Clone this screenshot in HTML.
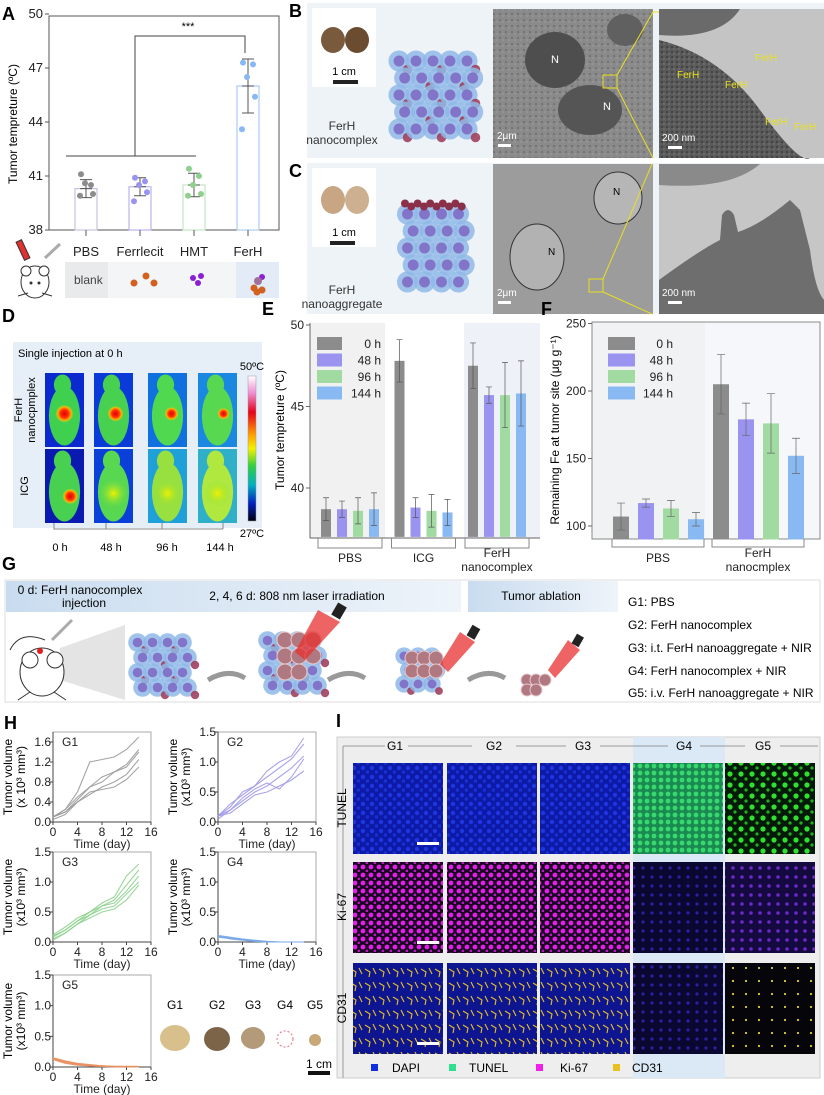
<!DOCTYPE html>
<html><head><meta charset="utf-8">
<style>
html,body{margin:0;padding:0;background:#fff;}
svg{display:block;font-family:"Liberation Sans",Arial,sans-serif;}
</style></head>
<body>
<svg id="fig" width="824" height="1095" viewBox="0 0 824 1095" xmlns="http://www.w3.org/2000/svg">
<defs>
  <linearGradient id="hdr" x1="0" x2="1" y1="0" y2="0"><stop offset="0" stop-color="#c9dcef"/><stop offset="1" stop-color="#eef4fa"/></linearGradient>
  <linearGradient id="cbar" x1="0" x2="0" y1="0" y2="1">
    <stop offset="0" stop-color="#ffffff"/><stop offset="0.12" stop-color="#f08ad0"/><stop offset="0.25" stop-color="#e8001a"/><stop offset="0.4" stop-color="#ff9a00"/><stop offset="0.5" stop-color="#f4f000"/><stop offset="0.62" stop-color="#30d040"/><stop offset="0.75" stop-color="#00b0c0"/><stop offset="0.88" stop-color="#0020c0"/><stop offset="1" stop-color="#000010"/></linearGradient>
  <radialGradient id="hot" cx="0.5" cy="0.5" r="0.5"><stop offset="0" stop-color="#e00010"/><stop offset="0.45" stop-color="#ff3000"/><stop offset="0.75" stop-color="#ffb000"/><stop offset="1" stop-color="#a8e030" stop-opacity="0"/></radialGradient>
  <radialGradient id="warm" cx="0.5" cy="0.5" r="0.5"><stop offset="0" stop-color="#f0f000"/><stop offset="1" stop-color="#80e040" stop-opacity="0"/></radialGradient>
  <pattern id="pBlue" width="9" height="9" patternUnits="userSpaceOnUse"><rect width="9" height="9" fill="#0d1aa8"/><circle cx="3" cy="3" r="2.2" fill="#1f35e0"/><circle cx="7.5" cy="7" r="1.8" fill="#1830d0"/></pattern>
  <pattern id="pGreenDense" width="7" height="7" patternUnits="userSpaceOnUse"><rect width="7" height="7" fill="#1a8a50"/><circle cx="3" cy="3" r="2.4" fill="#38d870"/></pattern>
  <pattern id="pGreenSparse" width="11" height="11" patternUnits="userSpaceOnUse"><rect width="11" height="11" fill="#041a08"/><circle cx="4" cy="4" r="2.6" fill="#30e030"/><circle cx="9" cy="9" r="1.6" fill="#20b020"/></pattern>
  <pattern id="pMag" width="8" height="8" patternUnits="userSpaceOnUse"><rect width="8" height="8" fill="#1a0520"/><circle cx="3" cy="3" r="2.4" fill="#e020e8"/><circle cx="7" cy="7" r="1.5" fill="#b018c0"/></pattern>
  <pattern id="pDark" width="9" height="9" patternUnits="userSpaceOnUse"><rect width="9" height="9" fill="#0a0830"/><circle cx="4" cy="4" r="1.6" fill="#2a20a0"/></pattern>
  <pattern id="pViolet" width="9" height="9" patternUnits="userSpaceOnUse"><rect width="9" height="9" fill="#140a40"/><circle cx="4" cy="4" r="1.8" fill="#6a28c8"/></pattern>
  <pattern id="pCD31" width="14" height="14" patternUnits="userSpaceOnUse"><rect width="14" height="14" fill="#0d1690"/><path d="M1 3 L6 6 L5 11 M9 2 L12 8" stroke="#e8c020" stroke-width="1.1" fill="none"/></pattern>
  <pattern id="pYdots" width="13" height="13" patternUnits="userSpaceOnUse"><rect width="13" height="13" fill="#06060a"/><circle cx="5" cy="6" r="1.1" fill="#e0d030"/></pattern>
  <pattern id="pTEM" width="6" height="6" patternUnits="userSpaceOnUse"><rect width="6" height="6" fill="#8a8a8a"/><circle cx="2" cy="2" r="1" fill="#6c6c6c"/><circle cx="5" cy="4" r="0.8" fill="#a0a0a0"/></pattern>
  <pattern id="pTEM2" width="5" height="5" patternUnits="userSpaceOnUse"><rect width="5" height="5" fill="#5a5a5a"/><circle cx="2" cy="2" r="1" fill="#3c3c3c"/><circle cx="4" cy="4" r="0.7" fill="#808080"/></pattern>
  <marker id="arr" markerWidth="6" markerHeight="6" refX="3" refY="3" orient="auto"><path d="M0 0 L6 3 L0 6z" fill="#999"/></marker>
</defs>

<!-- ================= PANEL A ================= -->
<g id="panelA">
  <text x="2" y="20" font-size="18" font-weight="bold">A</text>
  <text transform="translate(17,124) rotate(-90)" text-anchor="middle" font-size="12">Tumor tempreture (ºC)</text>
  <rect x="49" y="16" width="230" height="214" fill="none" stroke="#555" stroke-width="1"/>
  <g id="aTicks"></g>
  <g id="aBars"></g>
  <path d="M66 156 H196 M135 156 V36 H245 V53" fill="none" stroke="#444" stroke-width="1"/>
  <text x="188" y="30" font-size="11" text-anchor="middle">***</text>
  <rect x="65" y="262" width="214" height="36" fill="#f3f5f7"/>
  <rect x="65" y="262" width="43" height="36" fill="#e8eaec"/>
  <rect x="236" y="262" width="43" height="36" fill="#e2ebf6"/>
  <text x="74" y="284" font-size="12" fill="#444">blank</text>
  <g><circle cx="134" cy="283" r="3.5" fill="#d2601e"/><circle cx="146" cy="276" r="3.5" fill="#d2601e"/><circle cx="154" cy="283" r="3.5" fill="#d2601e"/></g>
  <g><circle cx="193" cy="278" r="3" fill="#8a1fd6"/><circle cx="201" cy="276" r="3" fill="#8a1fd6"/><circle cx="198" cy="283" r="3" fill="#8a1fd6"/></g>
  <g><circle cx="262" cy="277" r="3" fill="#8a1fd6"/><circle cx="258" cy="281" r="4" fill="#a0709a"/><circle cx="254" cy="288" r="3.5" fill="#d2601e"/><circle cx="262" cy="290" r="3.5" fill="#d2601e"/><circle cx="257" cy="292" r="3.5" fill="#d2601e"/></g>
  <g stroke="#333" fill="#fff" stroke-width="1">
    <ellipse cx="35" cy="282" rx="14" ry="16"/><circle cx="26" cy="271" r="5"/><circle cx="44" cy="271" r="5"/>
    <circle cx="31" cy="283" r="1" fill="#333"/><circle cx="39" cy="283" r="1" fill="#333"/>
    <path d="M28 293 L18 296 M42 293 L52 296" fill="none"/>
    <rect x="20" y="240" width="6" height="20" fill="#e03030" transform="rotate(-25 23 250)"/>
    <path d="M45 258 L60 244" stroke="#aaa" stroke-width="3"/>
  </g>
</g>

<!-- ================= PANEL B / C ================= -->
<g>
  <text x="289" y="17" font-size="18" font-weight="bold">B</text>
  <rect x="307" y="3" width="517" height="155" fill="#eef3f8"/>
  <rect x="312" y="8" width="64" height="79" fill="#fff"/>
  <ellipse cx="333" cy="40" rx="12" ry="13" fill="#7a5a3c"/><ellipse cx="357" cy="40" rx="12" ry="13" fill="#6c4c30"/>
  <text x="344" y="75" font-size="11" text-anchor="middle">1 cm</text>
  <rect x="333" y="80" width="25" height="4" fill="#222"/>
  <text x="342" y="130" font-size="12" text-anchor="middle" fill="#333">FerH</text>
  <text x="342" y="144" font-size="12" text-anchor="middle" fill="#333">nanocomplex</text>
  <g id="clusterB"></g>
  <rect x="493" y="9" width="160" height="149" fill="url(#pTEM)"/>
  <ellipse cx="555" cy="60" rx="30" ry="28" fill="#4e4e4e"/><ellipse cx="590" cy="110" rx="32" ry="25" fill="#555"/>
  <ellipse cx="625" cy="30" rx="18" ry="16" fill="#606060"/>
  <text x="551" y="63" fill="#fff" font-size="11">N</text><text x="603" y="110" fill="#fff" font-size="11">N</text>
  <rect x="603" y="75" width="14" height="13" fill="none" stroke="#e8e020"/>
  <text x="497" y="139" fill="#fff" font-size="10">2μm</text><rect x="498" y="144" width="13" height="3" fill="#fff"/>
  <path d="M653 12 L659 12 M617 75 L653 12 M617 88 L653 158" stroke="#e8e020" stroke-width="1"/>
  <rect x="659" y="9" width="165" height="149" fill="#c4c4c4"/>
  <path d="M659 40 Q720 55 760 110 T810 158 L659 158Z" fill="url(#pTEM2)"/>
  <path d="M659 9 H740 Q720 40 659 35Z" fill="#6a6a6a"/>
  <text x="677" y="78" fill="#e8e020" font-size="10">FerH</text><text x="725" y="88" fill="#e8e020" font-size="10">FerH</text>
  <text x="755" y="61" fill="#e8e020" font-size="10">FerH</text><text x="765" y="125" fill="#e8e020" font-size="10">FerH</text><text x="794" y="130" fill="#e8e020" font-size="10">FerH</text>
  <text x="662" y="141" fill="#fff" font-size="10">200 nm</text><rect x="668" y="146" width="14" height="3" fill="#fff"/>
</g>
<g>
  <text x="289" y="177" font-size="18" font-weight="bold">C</text>
  <rect x="307" y="163" width="517" height="151" fill="#eef3f8"/>
  <rect x="312" y="168" width="64" height="79" fill="#fff"/>
  <ellipse cx="333" cy="200" rx="12" ry="14" fill="#c8a684"/><ellipse cx="357" cy="200" rx="12" ry="14" fill="#cdb090"/>
  <text x="344" y="236" font-size="11" text-anchor="middle">1 cm</text>
  <rect x="330" y="241" width="25" height="4" fill="#222"/>
  <text x="342" y="294" font-size="12" text-anchor="middle" fill="#333">FerH</text>
  <text x="342" y="308" font-size="12" text-anchor="middle" fill="#333">nanoaggregate</text>
  <g id="clusterC"></g>
  <rect x="493" y="164" width="160" height="150" fill="#9c9c9c"/>
  <ellipse cx="537" cy="257" rx="27" ry="33" fill="#b2b2b2" stroke="#333"/><ellipse cx="618" cy="198" rx="24" ry="26" fill="#b6b6b6" stroke="#333"/>
  <text x="548" y="255" font-size="10">N</text><text x="613" y="195" font-size="10">N</text>
  <rect x="589" y="279" width="14" height="13" fill="none" stroke="#e8e020"/>
  <path d="M603 279 L652 164 M603 292 L652 314" stroke="#e8e020"/>
  <text x="497" y="296" fill="#fff" font-size="10">2μm</text><rect x="498" y="301" width="13" height="3" fill="#fff"/>
  <rect x="659" y="164" width="165" height="150" fill="#c6c6c6"/>
  <path d="M659 314 L659 280 Q700 250 720 240 L722 215 Q728 205 734 215 L738 232 Q760 225 790 200 L800 210 L810 250 Q815 290 824 300 L824 314Z" fill="#6e6e6e"/>
  <path d="M659 164 H760 Q730 190 659 185Z" fill="#8a8a8a"/>
  <text x="662" y="296" fill="#fff" font-size="10">200 nm</text><rect x="668" y="301" width="14" height="3" fill="#fff"/>
</g>

<!-- ================= PANEL D ================= -->
<g>
  <text x="2" y="322" font-size="18" font-weight="bold">D</text>
  <rect x="13" y="342" width="249" height="186" fill="#e6eef7"/>
  <text x="18" y="357" font-size="11">Single injection at 0 h</text>
  <text transform="translate(22,410) rotate(-90)" text-anchor="middle" font-size="11">FerH</text>
  <text transform="translate(35,410) rotate(-90)" text-anchor="middle" font-size="11">nanocpmplex</text>
  <text transform="translate(28,486) rotate(-90)" text-anchor="middle" font-size="11">ICG</text>
  <g id="thermal"></g>
  <rect x="248" y="376" width="8" height="145" fill="url(#cbar)" stroke="#999" stroke-width="0.5"/>
  <text x="252" y="370" font-size="11" text-anchor="middle">50ºC</text>
  <text x="252" y="537" font-size="11" text-anchor="middle">27ºC</text>
  <path d="M54 523 V529 H223 M106 523 V529 M162 523 V529 M223 523 V529" stroke="#888" fill="none"/>
  <text x="60" y="551" font-size="11" text-anchor="middle">0 h</text>
  <text x="111" y="551" font-size="11" text-anchor="middle">48 h</text>
  <text x="167" y="551" font-size="11" text-anchor="middle">96 h</text>
  <text x="220" y="551" font-size="11" text-anchor="middle">144 h</text>
</g>

<!-- ================= PANEL E ================= -->
<g>
  <text x="262" y="315" font-size="18" font-weight="bold">E</text>
  <rect x="310" y="323" width="75" height="215" fill="#f1f1f1"/>
  <rect x="464" y="323" width="76" height="215" fill="#eef2f8"/>
  <path d="M310 323 V538 H540" fill="none" stroke="#666"/>
  <text transform="translate(284,430) rotate(-90)" text-anchor="middle" font-size="12">Tumor tempreture (ºC)</text>
  <g id="eTicks"></g><g id="eBars"></g><g id="eLegend"></g><g id="eGroups"></g>
</g>

<!-- ================= PANEL F ================= -->
<g>
  <text x="541" y="315" font-size="18" font-weight="bold">F</text>
  <rect x="592" y="322" width="113" height="217" fill="#f1f2f4"/>
  <rect x="705" y="322" width="115" height="217" fill="#f5f7fa"/>
  <rect x="592" y="322" width="228" height="217" fill="none" stroke="#888"/>
  <text transform="translate(559,430) rotate(-90)" text-anchor="middle" font-size="12">Remaining Fe at tumor site (μg g⁻¹)</text>
  <g id="fTicks"></g><g id="fBars"></g><g id="fLegend"></g><g id="fGroups"></g>
</g>

<!-- ================= PANEL G ================= -->
<g>
  <text x="2" y="570" font-size="18" font-weight="bold">G</text>
  <rect x="5" y="580" width="815" height="122" fill="#fff" stroke="#ddd"/>
  <rect x="6" y="581" width="455" height="31" fill="url(#hdr)"/>
  <rect x="468" y="581" width="150" height="31" fill="url(#hdr)"/>
  <text x="80" y="594" font-size="12" text-anchor="middle">0 d: FerH nanocomplex</text>
  <text x="84" y="607" font-size="12" text-anchor="middle">injection</text>
  <text x="297" y="600" font-size="12" text-anchor="middle">2, 4, 6 d: 808 nm laser irradiation</text>
  <text x="541" y="600" font-size="12" text-anchor="middle">Tumor ablation</text>
  <g font-size="12">
    <text x="628" y="606">G1: PBS</text>
    <text x="628" y="629">G2: FerH nanocomplex</text>
    <text x="628" y="652">G3: i.t. FerH nanoaggregate + NIR</text>
    <text x="628" y="675">G4: FerH nanocomplex + NIR</text>
    <text x="628" y="697">G5: i.v. FerH nanoaggregate + NIR</text>
  </g>
  <g stroke="#333" fill="#fff">
    <path d="M60 648 L125 625 L125 700 L60 680Z" fill="#e4e4e4" stroke="none"/>
    <ellipse cx="42" cy="672" rx="22" ry="24"/><circle cx="30" cy="660" r="8"/><circle cx="55" cy="660" r="8"/>
    <circle cx="40" cy="651" r="3" fill="#e02020" stroke="none"/>
    <path d="M10 650 Q20 630 45 640" fill="none"/><path d="M52 640 L72 620" stroke="#aaa" stroke-width="3"/>
    <path d="M30 692 L18 700 M54 692 L66 700" fill="none"/>
  </g>
  <g id="clusterG"></g>
  <g fill="none" stroke="#999" stroke-width="5">
    <path d="M208 680 Q228 668 245 678"/><path d="M328 680 Q348 668 365 678"/><path d="M468 680 Q488 668 505 678"/>
  </g>
  <g>
    <path d="M318 610 L340 622 L305 660 L295 652Z" fill="#e83030" opacity="0.75"/><rect x="334" y="604" width="10" height="14" fill="#222" transform="rotate(30 339 611)"/>
    <path d="M460 632 L475 642 L448 672 L440 664Z" fill="#e83030" opacity="0.75"/><rect x="469" y="626" width="9" height="12" fill="#222" transform="rotate(30 473 632)"/>
    <path d="M568 640 L580 650 L555 678 L548 670Z" fill="#e83030" opacity="0.75"/><rect x="574" y="635" width="8" height="11" fill="#222" transform="rotate(30 578 640)"/>
  </g>
</g>

<!-- ================= PANEL H ================= -->
<g>
  <text x="4" y="729" font-size="18" font-weight="bold">H</text>
  <g id="hPlots"></g>
  <g font-size="12" text-anchor="middle">
    <text x="175" y="1009">G1</text><text x="217" y="1009">G2</text><text x="253" y="1009">G3</text><text x="285" y="1009">G4</text><text x="315" y="1009">G5</text>
    <ellipse cx="175" cy="1038" rx="15" ry="13" fill="#d8c08c"/><ellipse cx="217" cy="1039" rx="13" ry="12" fill="#7c6448"/>
    <ellipse cx="253" cy="1038" rx="12" ry="11" fill="#b39a78"/><circle cx="285" cy="1039" r="8" fill="none" stroke="#e07080" stroke-dasharray="2 2"/>
    <circle cx="315" cy="1040" r="6" fill="#c8a878"/>
    <text x="319" y="1068">1 cm</text><rect x="308" y="1071" width="22" height="4" fill="#111"/>
  </g>
</g>

<!-- ================= PANEL I ================= -->
<g>
  <text x="336" y="727" font-size="18" font-weight="bold">I</text>
  <rect x="337" y="737" width="483" height="341" fill="#eeeeee" stroke="#ccc"/>
  <rect x="633" y="737" width="92" height="341" fill="#dbe8f6"/>
  <g font-size="12" text-anchor="middle">
    <text x="395" y="750">G1</text><text x="494" y="750">G2</text><text x="583" y="750">G3</text><text x="684" y="750">G4</text><text x="763" y="750">G5</text>
  </g>
  <path d="M343 746 H385 M408 746 H472 M516 746 H566 M600 746 H668 M700 746 H745 M780 746 H818" stroke="#999"/>
  <path d="M343 746 V1078" stroke="#999"/>
  <g font-size="12" text-anchor="middle">
    <text transform="translate(346,808) rotate(-90)">TUNEL</text>
    <text transform="translate(346,907) rotate(-90)">Ki-67</text>
    <text transform="translate(346,1008) rotate(-90)">CD31</text>
  </g>
  <g id="ifGrid"></g>
  <g font-size="12">
    <rect x="371" y="1064" width="7" height="7" fill="#1030e0"/><text x="392" y="1072">DAPI</text>
    <rect x="449" y="1064" width="7" height="7" fill="#30e090"/><text x="469" y="1072">TUNEL</text>
    <rect x="536" y="1064" width="7" height="7" fill="#f020e8"/><text x="560" y="1072">Ki-67</text>
    <rect x="613" y="1064" width="7" height="7" fill="#e8c020"/><text x="632" y="1072">CD31</text>
  </g>
</g>
</svg>

<script>
// ---------- DATA ----------
const aCats = ['PBS', 'Ferrlecit', 'HMT', 'FerH'];
const aMeans = [40.3, 40.4, 40.5, 46.0];
const aErr = [0.5, 0.5, 0.65, 1.5];
const aPoints = [[41.1, 40.5, 40.6, 40.0, 39.9], [40.9, 40.7, 40.5, 40.1, 39.6], [41.4, 41.0, 40.5, 40.0, 39.9], [47.3, 47.2, 46.5, 45.4, 43.6]];
const aTicks = [38, 41, 44, 47, 50];

const timeSeries = ['0 h', '48 h', '96 h', '144 h'];
const eGroups = ['PBS', 'ICG', 'FerH|nanocomplex'];
const eVals = [[38.7, 38.7, 38.6, 38.7], [47.8, 38.8, 38.6, 38.5], [47.5, 45.7, 45.7, 45.8]];
const eErr = [[0.7, 0.5, 0.8, 1.0], [1.3, 0.6, 1.0, 0.8], [1.4, 0.5, 2.0, 2.0]];
const eTicks = [40, 45, 50];

const fGroups = ['PBS', 'FerH|nanocmplex'];
const fVals = [[107, 117, 113, 105], [205, 179, 176, 152]];
const fErr = [[10, 3, 6, 5], [22, 12, 22, 13]];
const fTicks = [100, 150, 200, 250];

const hDays = [0, 2, 4, 6, 8, 10, 12, 14];
const hXTicks = [0, 4, 8, 12, 16];
const hG1 = [[0.10, 0.25, 0.60, 1.20, 1.25, 1.30, 1.45, 1.70], [0.10, 0.20, 0.45, 0.70, 0.90, 1.00, 1.15, 1.45], [0.10, 0.25, 0.50, 0.70, 0.80, 1.00, 1.10, 1.40], [0.10, 0.20, 0.40, 0.55, 0.70, 0.80, 0.95, 1.25], [0.05, 0.15, 0.40, 0.60, 0.65, 0.70, 0.85, 1.10]];
const hG2 = [[0.10, 0.25, 0.50, 0.60, 0.85, 1.00, 1.10, 1.40], [0.10, 0.30, 0.45, 0.60, 0.75, 0.90, 1.05, 1.30], [0.10, 0.20, 0.35, 0.50, 0.60, 0.75, 0.90, 1.10], [0.05, 0.20, 0.40, 0.55, 0.65, 0.55, 0.75, 1.05], [0.10, 0.15, 0.30, 0.45, 0.50, 0.60, 0.70, 0.85]];
const hG3 = [[0.12, 0.25, 0.40, 0.50, 0.65, 0.75, 1.10, 1.30], [0.10, 0.20, 0.35, 0.50, 0.60, 0.70, 0.95, 1.20], [0.08, 0.20, 0.35, 0.45, 0.60, 0.65, 0.85, 1.10], [0.05, 0.15, 0.30, 0.45, 0.55, 0.60, 0.80, 1.00], [0.03, 0.15, 0.30, 0.40, 0.50, 0.55, 0.70, 0.95]];
const hG4 = [[0.10, 0.07, 0.05, 0.02, 0.0, 0.0, 0.0, 0.0], [0.08, 0.06, 0.04, 0.02, 0.01, 0.0, 0.0, 0.0], [0.11, 0.08, 0.05, 0.03, 0.01, 0.0, 0.0, 0.0], [0.09, 0.05, 0.03, 0.01, 0.0, 0.0, 0.0, 0.0], [0.10, 0.06, 0.04, 0.02, 0.0, 0.0, 0.0, 0.0]];
const hG5 = [[0.15, 0.08, 0.05, 0.03, 0.02, 0.01, 0.01, 0.01], [0.13, 0.07, 0.04, 0.02, 0.01, 0.01, 0.0, 0.0], [0.14, 0.09, 0.05, 0.03, 0.02, 0.01, 0.01, 0.0], [0.12, 0.06, 0.03, 0.02, 0.01, 0.0, 0.0, 0.0], [0.15, 0.10, 0.06, 0.04, 0.02, 0.01, 0.01, 0.01]];

// ---------- HELPERS ----------
const NS = 'http://www.w3.org/2000/svg';
function mk(tag, attrs, parent) {
  const e = document.createElementNS(NS, tag);
  for (const k in attrs) e.setAttribute(k, attrs[k]);
  parent.appendChild(e);
  return e;
}
function txt(x, y, s, size, anchor, parent, fill) {
  const t = mk('text', {x: x, y: y, 'font-size': size, 'text-anchor': anchor || 'start', fill: fill || '#222'}, parent);
  t.textContent = s;
  return t;
}
const cols = ['#8c8c8c', '#9a94f0', '#a2dba2', '#88b9f2'];

// ---------- PANEL A ----------
(function () {
  const yA = v => 230 - (v - 38) * 18;
  const xA = i => 86 + i * 54;
  const tg = document.getElementById('aTicks');
  aTicks.forEach(t => {
    const l = mk('line', {x1: 45, x2: 49, y1: yA(t), y2: yA(t), stroke: '#555'}, tg);
    
    
    const tt = txt(43, yA(t) + 4, String(t), 13, 'end', tg);
    
    
  });
  const bg = document.getElementById('aBars');
  const outline = ['#c9c3e0', '#b9b4ee', '#c3e5c3', '#a9cdf4'];
  const jit = [-5, 5, -1, 7, -6];
  aCats.forEach((c, i) => {
    const x = xA(i);
    const b = mk('rect', {x: x - 11, y: yA(aMeans[i]), width: 22, height: 230 - yA(aMeans[i]), fill: '#fff', stroke: outline[i], 'stroke-width': 1.2}, bg);
    
    
    const eb = mk('path', {d: `M${x} ${yA(aMeans[i] + aErr[i])} V${yA(aMeans[i] - aErr[i])} M${x - 6} ${yA(aMeans[i] + aErr[i])} H${x + 6} M${x - 6} ${yA(aMeans[i] - aErr[i])} H${x + 6} M${x - 6} ${yA(aMeans[i])} H${x + 6}`, stroke: '#555', fill: 'none'}, bg);
    
    
    aPoints[i].forEach((v, k) => {
      const p = mk('circle', {cx: x + jit[k], cy: yA(v), r: 3, fill: cols[i] === '#a2dba2' ? '#8fd08f' : cols[i]}, bg);
      
      
    });
    const tk = mk('line', {x1: x, x2: x, y1: 230, y2: 236, stroke: '#555'}, bg);
    
    
    const lb = txt(x, 256, c, 13, 'middle', bg);
    
    
  });
})();

// ---------- CELL CLUSTERS ----------
function cluster(g, cx, cy, nx, ny, sp, red, redTop) {
  for (let j = 0; j < ny; j++) for (let i = 0; i < nx; i++) {
    const x = cx + (i - (nx - 1) / 2) * sp + (j % 2 ? sp / 3 : 0);
    const y = cy + (j - (ny - 1) / 2) * sp;
    mk('circle', {cx: x, cy: y, r: sp * 0.62, fill: '#8fb8e8', opacity: 0.85}, g);
    mk('circle', {cx: x, cy: y, r: sp * 0.32, fill: '#7a60c0', opacity: 0.8}, g);
    if (red && (i + j) % 2 === 0) mk('circle', {cx: x + sp / 2, cy: y + sp / 2, r: sp * 0.28, fill: '#a04060', opacity: 0.9}, g);
  }
  if (redTop) for (let i = 0; i < 10; i++) mk('circle', {cx: cx - 28 + i * 6.3, cy: cy - ny * sp / 2 - 2 + (i % 2) * 3, r: 4, fill: '#8a3048'}, g);
}
cluster(document.getElementById('clusterB'), 433, 95, 5, 5, 17, true, false);
cluster(document.getElementById('clusterC'), 433, 248, 4, 5, 17, false, true);
(function () {
  const g = document.getElementById('clusterG');
  cluster(g, 160, 665, 4, 4, 15, true, false);
  const g2 = mk('g', {}, g);
  cluster(g2, 290, 663, 4, 4, 15, true, false);
  for (let i = 0; i < 8; i++) mk('circle', {cx: 285 + (i % 3) * 14, cy: 640 + Math.floor(i / 3) * 16, r: 8, fill: '#b07880', stroke: '#e8c8cc'}, g);
  cluster(g, 418, 670, 3, 3, 14, true, false);
  for (let i = 0; i < 6; i++) mk('circle', {cx: 412 + (i % 3) * 12, cy: 658 + Math.floor(i / 3) * 13, r: 7, fill: '#b07880', stroke: '#e8c8cc'}, g);
  for (let i = 0; i < 5; i++) mk('circle', {cx: 527 + (i % 3) * 9, cy: 680 + Math.floor(i / 3) * 10, r: 6, fill: '#b07880', stroke: '#e8c8cc'}, g);
})();

// ---------- PANEL D thermal ----------
(function () {
  const g = document.getElementById('thermal');
  const xs = [45, 94, 148, 198];
  const w = 39;
  const rows = [[373, 447], [449, 523]];
  const bgc = [['#0a2ad0', '#0a3ad8', '#1070e0', '#1a88e0'], ['#0a1ab0', '#0a40d8', '#20a0d8', '#30b0c8']];
  const body = [['#40d050', '#48d050', '#50d850', '#58d850'], ['#48d050', '#58d850', '#98e040', '#b0e840']];
  for (let r = 0; r < 2; r++) for (let c = 0; c < 4; c++) {
    const x = xs[c], y = rows[r][0], h = rows[r][1] - y;
    const im = mk('rect', {x: x, y: y, width: w, height: h, fill: bgc[r][c]}, g);
    
    
    mk('ellipse', {cx: x + w / 2, cy: y + h * 0.58, rx: w * 0.4, ry: h * 0.4, fill: body[r][c]}, g);
    mk('ellipse', {cx: x + w / 2 - 2, cy: y + h * 0.16, rx: w * 0.22, ry: h * 0.14, fill: body[r][c]}, g);
    if (r === 0) mk('circle', {cx: x + w / 2 + c * 2, cy: y + h * 0.55, r: 9 - c, fill: 'url(#hot)'}, g);
    else if (c === 0) mk('circle', {cx: x + w * 0.65, cy: y + h * 0.64, r: 8, fill: 'url(#hot)'}, g);
    else mk('circle', {cx: x + w / 2, cy: y + h * 0.6, r: 14, fill: 'url(#warm)'}, g);
  }
})();

// ---------- PANEL E ----------
(function () {
  const yE = v => 488 - (v - 40) * 16.3;
  const base = 37;
  const xE = (g, s) => 326 + g * 73.5 + s * 16;
  const tg = document.getElementById('eTicks');
  eTicks.forEach(t => {
    const l = mk('line', {x1: 306, x2: 310, y1: yE(t), y2: yE(t), stroke: '#666'}, tg);
    
    
    const tt = txt(304, yE(t) + 4, String(t), 12, 'end', tg);
    
    
  });
  const bg = document.getElementById('eBars');
  eVals.forEach((grp, g) => grp.forEach((v, s) => {
    const x = xE(g, s);
    const b = mk('rect', {x: x - 5, y: yE(v), width: 10, height: yE(base) - yE(v), fill: cols[s]}, bg);
    
    
    const e = eErr[g][s];
    const eb = mk('path', {d: `M${x} ${yE(v + e)} V${yE(v - e)} M${x - 3} ${yE(v + e)} H${x + 3} M${x - 3} ${yE(v - e)} H${x + 3}`, stroke: '#555', 'stroke-width': 0.7, fill: 'none'}, bg);
    
    
  }));
  const lg = document.getElementById('eLegend');
  timeSeries.forEach((s, i) => {
    const r = mk('rect', {x: 317, y: 337 + i * 16.5, width: 25, height: 13, fill: cols[i]}, lg);
    
    
    const t = txt(381, 348 + i * 16.5, s, 12, 'end', lg);
    
    
  });
  const gg = document.getElementById('eGroups');
  eGroups.forEach((n, g) => {
    const x0 = xE(g, 0) - 8, x1 = xE(g, 3) + 8;
    const br = mk('path', {d: `M${x0} 538 V548 H${x1} V538`, stroke: '#888', fill: 'none'}, gg);
    
    
    const parts = n.split('|');
    parts.forEach((p, k) => {
      const t = txt((x0 + x1) / 2, (parts.length > 1 ? 557 : 562) + k * 14, p, 12, 'middle', gg);
      
      
    });
  });
})();

// ---------- PANEL F ----------
(function () {
  const yF = v => 526 - (v - 100) * 1.35;
  const base = 90;
  const xF = (g, s) => 621 + g * 100 + s * 25;
  const tg = document.getElementById('fTicks');
  fTicks.forEach(t => {
    const l = mk('line', {x1: 588, x2: 592, y1: yF(t), y2: yF(t), stroke: '#666'}, tg);
    
    
    const tt = txt(586, yF(t) + 4, String(t), 12, 'end', tg);
    
    
  });
  const bg = document.getElementById('fBars');
  fVals.forEach((grp, g) => grp.forEach((v, s) => {
    const x = xF(g, s);
    const b = mk('rect', {x: x - 8, y: yF(v), width: 16, height: yF(base) - yF(v), fill: cols[s]}, bg);
    
    
    const e = fErr[g][s];
    const eb = mk('path', {d: `M${x} ${yF(v + e)} V${yF(v - e)} M${x - 4} ${yF(v + e)} H${x + 4} M${x - 4} ${yF(v - e)} H${x + 4}`, stroke: '#666', 'stroke-width': 0.7, fill: 'none'}, bg);
    
    
  }));
  const lg = document.getElementById('fLegend');
  timeSeries.forEach((s, i) => {
    const r = mk('rect', {x: 608, y: 337 + i * 16.5, width: 27, height: 13, fill: cols[i]}, lg);
    
    
    const t = txt(673, 348 + i * 16.5, s, 12, 'end', lg);
    
    
  });
  const gg = document.getElementById('fGroups');
  fGroups.forEach((n, g) => {
    const x0 = xF(g, 0) - 9, x1 = xF(g, 3) + 8;
    const br = mk('path', {d: `M${x0} 539 V547 H${x1} V539`, stroke: '#888', fill: 'none'}, gg);
    
    
    const parts = n.split('|');
    parts.forEach((p, k) => {
      const t = txt((x0 + x1) / 2, (parts.length > 1 ? 557 : 562) + k * 14, p, 12, 'middle', gg);
      
      
    });
  });
})();

// ---------- PANEL H ----------
(function () {
  const root = document.getElementById('hPlots');
  const plots = [
    {name: 'G1', data: hG1, x: 53, top: 732, bot: 822, ymax: 1.8, ticks: [0, 0.4, 0.8, 1.2, 1.6], color: '#9a9a9a', lab: 'x 10'},
    {name: 'G2', data: hG2, x: 218, top: 732, bot: 822, ymax: 1.5, ticks: [0, 0.5, 1.0, 1.5], color: '#a09ae8', lab: 'x10'},
    {name: 'G3', data: hG3, x: 53, top: 852, bot: 942, ymax: 1.5, ticks: [0, 0.5, 1.0, 1.5], color: '#8ed08e', lab: 'x10'},
    {name: 'G4', data: hG4, x: 218, top: 852, bot: 942, ymax: 1.5, ticks: [0, 0.5, 1.0, 1.5], color: '#7aa8e8', lab: 'x10'},
    {name: 'G5', data: hG5, x: 53, top: 975, bot: 1067, ymax: 1.5, ticks: [0, 0.5, 1.0, 1.5], color: '#e89060', lab: 'x10'}
  ];
  plots.forEach(p => {
    const g = mk('g', {}, root);
    
    
    const W = 98;
    const sx = d => p.x + d / 16 * W;
    const sy = v => p.bot - v / p.ymax * (p.bot - p.top);
    mk('rect', {x: p.x, y: p.top, width: W, height: p.bot - p.top, fill: 'none', stroke: '#aaa'}, g);
    mk('path', {d: `M${p.x} ${p.top} V${p.bot} H${p.x + W}`, stroke: '#444', fill: 'none'}, g);
    p.ticks.forEach(t => {
      mk('line', {x1: p.x - 3, x2: p.x, y1: sy(t), y2: sy(t), stroke: '#444'}, g);
      const tl = txt(p.x - 2, sy(t) + 4, t.toFixed(1), 12, 'end', g);
      
      
    });
    hXTicks.forEach(t => {
      mk('line', {x1: sx(t), x2: sx(t), y1: p.bot, y2: p.bot + 3, stroke: '#444'}, g);
      const tl = txt(sx(t), p.bot + 14, String(t), 12, 'middle', g);
      
      
    });
    const xt = txt(p.x + W / 2, p.bot + 26, 'Time (day)', 12, 'middle', g);
    
    
    const yt = mk('text', {transform: `translate(${p.x - 41},${(p.top + p.bot) / 2}) rotate(-90)`, 'font-size': 12, 'text-anchor': 'middle'}, g);
    yt.textContent = 'Tumor volume';
    
    
    const yt2 = mk('text', {transform: `translate(${p.x - 28},${(p.top + p.bot) / 2}) rotate(-90)`, 'font-size': 12, 'text-anchor': 'middle'}, g);
    yt2.textContent = '(' + p.lab + '³ mm³)';
    
    
    const gl = txt(p.x + 9, p.top + 14, p.name, 12, 'start', g);
    
    
    p.data.forEach(series => {
      const d = series.map((v, i) => (i ? 'L' : 'M') + sx(hDays[i]).toFixed(1) + ' ' + sy(v).toFixed(1)).join(' ');
      const ln = mk('path', {d: d, stroke: p.color, 'stroke-width': 1.1, fill: 'none', opacity: 0.9}, g);
      
      
    });
  });
})();

// ---------- PANEL I ----------
(function () {
  const g = document.getElementById('ifGrid');
  const xs = [353, 447, 540, 633, 725];
  const ys = [763, 862, 963];
  const fills = [
    ['url(#pBlue)', 'url(#pBlue)', 'url(#pBlue)', 'url(#pGreenDense)', 'url(#pGreenSparse)'],
    ['url(#pMag)', 'url(#pMag)', 'url(#pMag)', 'url(#pDark)', 'url(#pViolet)'],
    ['url(#pCD31)', 'url(#pCD31)', 'url(#pCD31)', 'url(#pDark)', 'url(#pYdots)']
  ];
  ys.forEach((y, r) => xs.forEach((x, c) => {
    const im = mk('rect', {x: x, y: y, width: 90, height: 91, fill: fills[r][c]}, g);
    
    
  }));
  ys.forEach(y => mk('rect', {x: 417, y: y + 79, width: 22, height: 3, fill: '#fff'}, g));
})();
</script>
</body></html>
